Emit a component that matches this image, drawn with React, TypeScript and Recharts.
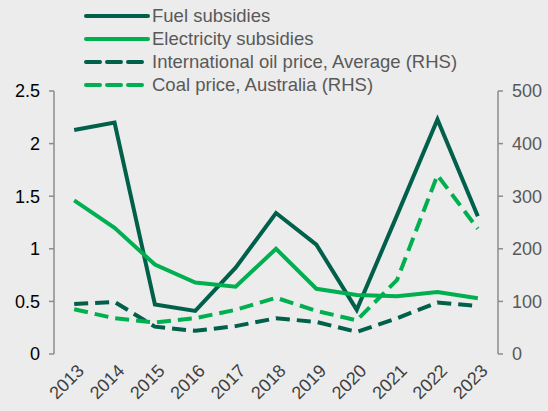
import { LineChart, Line, XAxis, YAxis } from 'recharts';

const years = ['2013', '2014', '2015', '2016', '2017', '2018', '2019', '2020', '2021', '2022', '2023'];
const fuelSubsidies = [2.13, 2.2, 0.47, 0.41, 0.82, 1.34, 1.04, 0.42, 1.32, 2.23, 1.31];
const electricitySubsidies = [1.46, 1.2, 0.85, 0.68, 0.64, 1.0, 0.62, 0.56, 0.55, 0.59, 0.53];
const oilPrice = [95, 99, 52, 44, 53, 68, 61, 42, 68, 98, 91];
const coalPrice = [85, 68, 60, 68, 84, 107, 82, 64, 141, 340, 238];

const leftTicks = [0, 0.5, 1, 1.5, 2, 2.5];
const rightTicks = [0, 100, 200, 300, 400, 500];

const DARK = '#00604a';
const LIGHT = '#00b050';
const AXIS = '#8c8c8c';
const FONT = '"Liberation Sans", Arial, sans-serif';

const data = years.map((year, i) => ({
    year,
    pos: i + 0.5,
    fuel: fuelSubsidies[i],
    electricity: electricitySubsidies[i],
    oil: oilPrice[i],
    coal: coalPrice[i],
}));

const series = [
    { key: 'fuel', name: 'Fuel subsidies', color: DARK, dash: undefined, axis: 'left' },
    { key: 'electricity', name: 'Electricity subsidies', color: LIGHT, dash: undefined, axis: 'left' },
    { key: 'oil', name: 'International oil price, Average (RHS)', color: DARK, dash: '14 7', axis: 'right' },
    { key: 'coal', name: 'Coal price, Australia (RHS)', color: LIGHT, dash: '14 7', axis: 'right' },
];

const boundaryTicks = years.map((_, i) => i).concat(years.length);
const centerTicks = years.map((_, i) => i + 0.5);

function YearTick({ x, y, payload }: any) {
    const label = years[Math.floor(payload.value)];
    return (
        <g transform={`translate(${x + 2},${y + 1})`}>
            <text
                x={0}
                y={0}
                dy="0.7em"
                textAnchor="end"
                transform="rotate(-45)"
                fill="#404040"
                fontSize={18}
                fontFamily={FONT}
            >
                {label}
            </text>
        </g>
    );
}

function ChartLegend() {
    return (
        <div
            style={{
                position: 'absolute',
                left: 84,
                top: 4,
                fontFamily: FONT,
                fontSize: 18.5,
                color: '#595959',
            }}
        >
            {series.map((s) => (
                <div key={s.key} style={{ display: 'flex', alignItems: 'center', height: 23 }}>
                    <svg width={66} height={8} style={{ marginRight: 2 }}>
                        <line
                            x1={2}
                            y1={4}
                            x2={64}
                            y2={4}
                            stroke={s.color}
                            strokeWidth={4}
                            strokeDasharray={s.dash}
                            strokeLinecap="round"
                        />
                    </svg>
                    <span>{s.name}</span>
                </div>
            ))}
        </div>
    );
}

export default function App() {
    return (
        <div
            style={{
                position: 'fixed',
                left: 0,
                top: 0,
                width: 548,
                height: 411,
                background: '#ececec',
            }}
        >
            <LineChart
                width={548}
                height={411}
                data={data}
                margin={{ top: 91, right: 0, bottom: 0, left: 10 }}
            >
                <XAxis
                    xAxisId="grid"
                    type="number"
                    dataKey="pos"
                    domain={[0, years.length]}
                    ticks={boundaryTicks}
                    tickFormatter={() => ''}
                    height={0}
                    stroke={AXIS}
                    strokeWidth={1.5}
                    tickSize={6}
                />
                <XAxis
                    xAxisId="lab"
                    type="number"
                    dataKey="pos"
                    domain={[0, years.length]}
                    ticks={centerTicks}
                    axisLine={false}
                    tickLine={false}
                    interval={0}
                    height={57}
                    tick={<YearTick />}
                />
                <YAxis
                    yAxisId="left"
                    domain={[0, 2.5]}
                    ticks={leftTicks}
                    width={44}
                    stroke={AXIS}
                    strokeWidth={1.5}
                    tickSize={5}
                    tickMargin={9}
                    tick={{ fill: '#000000', fontSize: 18, fontFamily: FONT }}
                />
                <YAxis
                    yAxisId="right"
                    orientation="right"
                    domain={[0, 500]}
                    ticks={rightTicks}
                    width={50}
                    stroke={AXIS}
                    strokeWidth={1.5}
                    tickSize={5}
                    tickMargin={9}
                    tick={{ fill: '#595959', fontSize: 18, fontFamily: FONT }}
                />
                {series.map((s) => (
                    <Line
                        key={s.key}
                        xAxisId="lab"
                        yAxisId={s.axis}
                        dataKey={s.key}
                        name={s.name}
                        stroke={s.color}
                        strokeWidth={4}
                        strokeDasharray={s.dash}
                        dot={false}
                        activeDot={false}
                        isAnimationActive={false}
                    />
                ))}
            </LineChart>
            <ChartLegend />
        </div>
    );
}
